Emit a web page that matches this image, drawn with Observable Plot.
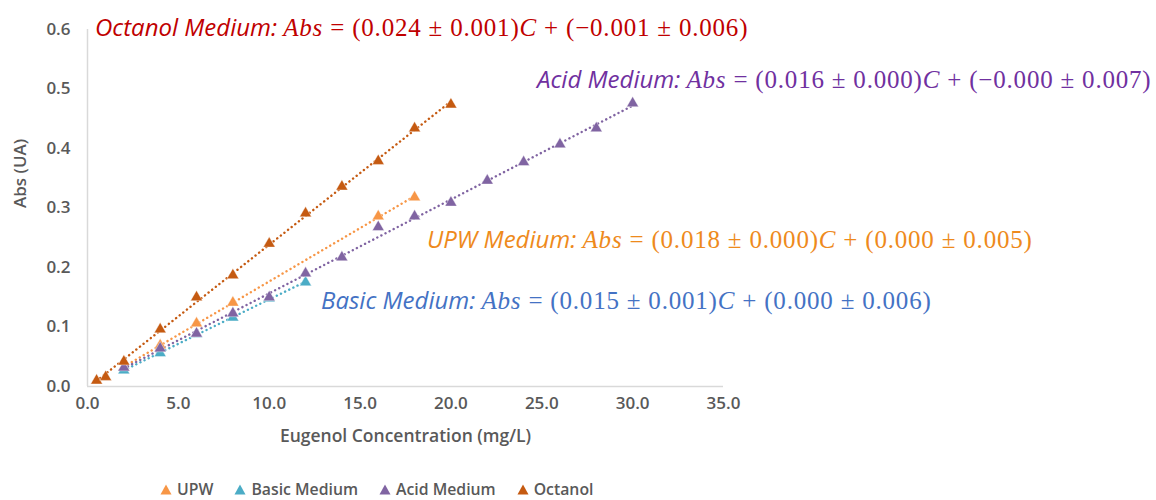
<!DOCTYPE html>
<html>
<head>
<meta charset="utf-8">
<script src="https://cdn.jsdelivr.net/npm/d3@7"></script>
<script src="https://cdn.jsdelivr.net/npm/@observablehq/plot@0.6"></script>
<style>
  html, body { margin: 0; padding: 0; background: #fff; }
  #wrap { position: relative; width: 1156px; height: 500px; overflow: hidden; }
  .eq { position: absolute; white-space: nowrap; line-height: 1; }
  .eq .lab { font-family: "Open Sans", sans-serif; font-style: italic; font-size: 24px; }
  .eq .math { font-family: "Liberation Serif", serif; font-size: 25px; letter-spacing: 0.8px; }
  #legend { position: absolute; left: 160px; top: 480px; display: flex; gap: 21px; line-height: 18px;
            font-family: "Open Sans", sans-serif; font-weight: 600; font-size: 15.8px; color: #595959; }
  #legend span.item { display: inline-flex; align-items: center; gap: 5px; }
</style>
</head>
<body>
<div id="wrap"></div>
<script>
// ---- data ----
const seriesNames = ["UPW", "Basic Medium", "Acid Medium", "Octanol"];
const seriesColors = ["#F79646", "#4BACC6", "#8064A2", "#C55A11"];

const upwC   = [2, 4, 6, 8, 16, 18];
const upwAbs = [0.032, 0.069, 0.106, 0.141, 0.286, 0.318];

const basicC   = [2, 4, 6, 8, 10, 12];
const basicAbs = [0.027, 0.056, 0.088, 0.116, 0.148, 0.175];

const acidC   = [2, 4, 6, 8, 10, 12, 14, 16, 18, 20, 22, 24, 26, 28, 30];
const acidAbs = [0.032, 0.064, 0.089, 0.123, 0.150, 0.190, 0.217, 0.268, 0.286, 0.309, 0.346, 0.377, 0.407, 0.434, 0.476];

const octC   = [0.5, 1, 2, 4, 6, 8, 10, 12, 14, 16, 18, 20];
const octAbs = [0.010, 0.016, 0.042, 0.096, 0.150, 0.187, 0.240, 0.291, 0.336, 0.379, 0.434, 0.474];

const xTicks = [0, 5, 10, 15, 20, 25, 30, 35];
const yTicks = [0, 0.1, 0.2, 0.3, 0.4, 0.5, 0.6];

const equations = [
  {label: "Octanol Medium", color: "#C00000", slope: "0.024 ± 0.001", icpt: "−0.001 ± 0.006"},
  {label: "Acid Medium",    color: "#7030A0", slope: "0.016 ± 0.000", icpt: "−0.000 ± 0.007"},
  {label: "UPW Medium",     color: "#EE8A1C", slope: "0.018 ± 0.000", icpt: "0.000 ± 0.005"},
  {label: "Basic Medium",   color: "#4472C4", slope: "0.015 ± 0.001", icpt: "0.000 ± 0.006"}
];
// ----------------------------------------

const rows = [];
[[upwC, upwAbs], [basicC, basicAbs], [acidC, acidAbs], [octC, octAbs]].forEach(([cs, as], i) => {
  cs.forEach((c, j) => rows.push({series: seriesNames[i], c, abs: as[j]}));
});

const textColor = "#595959";
const fmt = d3.format(".1f");
const chart = Plot.plot({
  width: 1156,
  height: 460,
  marginLeft: 87,
  marginRight: 433,
  marginTop: 29,
  marginBottom: 74,
  style: {fontFamily: "Open Sans, sans-serif", fontWeight: 600, color: textColor, background: "white"},
  x: {domain: [0, 35], axis: null},
  y: {domain: [0, 0.6], axis: null},
  color: {domain: seriesNames, range: seriesColors},
  marks: [
    Plot.ruleY([0], {stroke: "#d9d9d9", strokeWidth: 1.5}),
    Plot.ruleX([0], {stroke: "#d9d9d9", strokeWidth: 1.5}),
    Plot.text(xTicks, {x: d => d, text: d => fmt(d), frameAnchor: "bottom", dy: 22, fontSize: 17, fill: textColor}),
    Plot.text(yTicks, {y: d => d, text: d => fmt(d), frameAnchor: "left", dx: -17, textAnchor: "end", fontSize: 17, fill: textColor}),
    Plot.text(["Eugenol Concentration (mg/L)"], {frameAnchor: "bottom", dy: 55, fontSize: 17.5, fill: textColor}),
    Plot.text(["Abs (UA)"], {frameAnchor: "left", dx: -67, rotate: -90, fontSize: 17, fill: textColor}),
    Plot.linearRegressionY(rows, {x: "c", y: "abs", stroke: "series", ci: 0, strokeWidth: 2.4,
                strokeDasharray: "0.1,4.5", strokeLinecap: "round"}),
    Plot.dot(rows, {x: "c", y: "abs", fill: "series", symbol: "triangle", r: 4.4, stroke: "white", strokeWidth: 0.4})
  ]
});

const wrap = document.getElementById("wrap");
wrap.appendChild(chart);

// equation annotations (positions in pixels)
const eqPos = [
  {left: 95,  top: 15},
  {left: 537, top: 67},
  {left: 427, top: 227},
  {left: 321, top: 288}
];
equations.forEach((e, i) => {
  const d = document.createElement("div");
  d.className = "eq";
  d.style.left = eqPos[i].left + "px";
  d.style.top = eqPos[i].top + "px";
  d.style.color = e.color;
  d.innerHTML = `<span class="lab">${e.label}: </span><span class="math"><i>Abs</i> = (${e.slope})<i>C</i> + (${e.icpt})</span>`;
  wrap.appendChild(d);
});

// legend
const leg = document.createElement("div");
leg.id = "legend";
seriesNames.forEach((name, i) => {
  const s = document.createElement("span");
  s.className = "item";
  s.innerHTML = `<svg width="12" height="11"><polygon points="6,0.5 11.5,10.5 0.5,10.5" fill="${seriesColors[i]}"/></svg>${name}`;
  leg.appendChild(s);
});
wrap.appendChild(leg);
</script>
</body>
</html>
